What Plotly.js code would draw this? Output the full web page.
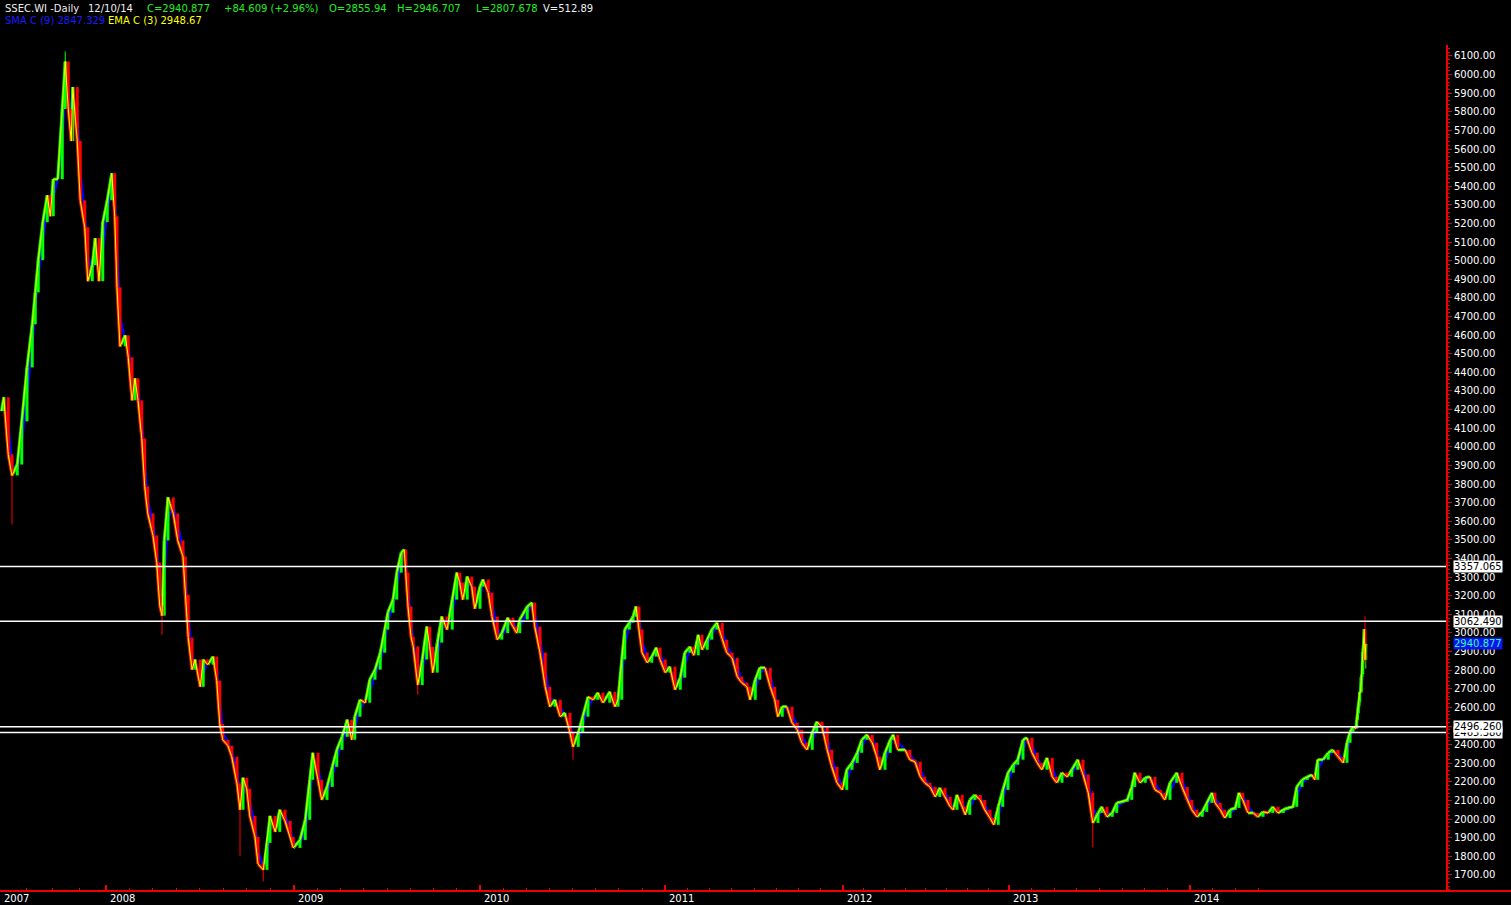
<!DOCTYPE html>
<html><head><meta charset="utf-8">
<script src="https://cdn.plot.ly/plotly-3.0.1.min.js"></script>
<style>html,body{margin:0;padding:0;background:#000;overflow:hidden}#chart{width:1511px;height:905px}</style>
</head><body><div id="chart"></div>
<script>
// Bar number (trading session index on the chart's own axis) and daily close
const bar = [
 2,5,11,16,23,29,36,43,47,51,57,63,67,71,77,83,87,91,95,97,103,107,113,117,123,127,132,137,143,
 149,153,156,160,167,171,176,180,184,189,193,197,204,209,213,216,219,224,231,237,244,247,251,256,260,267,271,277,284,289,293,297,304,309,316,320,324,329,333,340,344,351,356,360,367,373,380,387,391,
 400,407,413,417,424,429,436,443,449,456,463,469,473,480,487,493,500,507,513,517,524,529,535,539,541,544,548,551,557,563,569,573,577,583,589,596,603,609,613,617,623,629,633,640,
 644,651,656,663,669,677,684,689,693,703,709,713,720,727,733,740,747,753,760,764,771,777,784,791,797,804,813,820,824,829,833,839,844,848,852,856,863,869,875,880,887,
 893,900,907,913,920,925,931,936,943,949,956,963,969,976,983,989,996,1000,1007,1013,1020,1027,1033,1037,1043,1049,1056,1063,1069,1076,1083,1089,1096,1103,1109,1116,1123,
 1129,1136,1143,1149,1156,1163,1169,1173,1180,1187,1191,1197,1207,1213,1220,1227,1233,1240,1247,1253,1260,1267,1271,1276,1283,1287,1293,1300,1307,1313,1320,1325,1331,1337,1344,
 1351,1357,1364,1369,1376,1383,1389,1396,1403,1409,1416,1423,1429,1437,1444,1451,1457,1464,1469,1476,1483,1489,1496,1503,1509,1513,1520,1527,1533,1540,1547,1553,1560,1569,1576,1583,
 1589,1596,1603,1609,1616,1620,1627,1633,1640,1647,1652,1657,1664,1671,1677,1684,1691,1697,1704,1711,1717,1724,1729,1736,1743,1749,1753,1757,1764,1771,1777,1784,1791,1796,1800,1804,1808,1809,1810,1811,1812,1813,1814,1815,1816,1817,1818,1819,1820,1821
];
const closes = [
 4193,4266,3959,3846,3905,4137,4427,4658,4830,5003,5207,5352,5239,5438,5438,5815,6070,5815,5643,5933,5643,5325,5180,4890,4976,5121,4890,5207,5325,
 5470,5239,4857,4540,4599,4481,4250,4368,4250,4045,3787,3642,3524,3378,3147,3093,3497,3728,3642,3497,3411,3206,2975,2803,2857,2711,2857,2830,2873,2744,2512,2426,2394,2335,2189,2050,2222,2163,2017,1904,1759,1727,1872,2017,1931,2050,1990,1904,1845,
 1888,1996,2211,2356,2211,2103,2173,2281,2372,2442,2534,2426,2550,2641,2625,2749,2803,2894,3018,3109,3179,3324,3432,3448,3324,3142,2980,2926,2720,2857,3034,2926,2787,2948,3088,3018,3179,3324,3271,3179,3303,3249,3130,3249,
 3287,3217,3088,2964,2999,3082,3034,2999,3072,3142,3163,3034,2894,2711,2604,2641,2550,2571,2464,2388,2464,2550,2657,2641,2679,2625,2684,2604,2641,2857,3018,3055,3088,3142,3018,2894,2840,2873,2921,2857,2787,
 2819,2695,2760,2894,2926,2880,2990,2910,2964,3018,3055,2964,2894,2867,2765,2733,2711,2641,2749,2813,2813,2711,2641,2550,2604,2604,2518,2480,2410,2372,2464,2523,2496,2372,2281,2195,2157,
 2265,2302,2356,2426,2453,2410,2335,2265,2356,2426,2453,2372,2372,2319,2308,2227,2195,2173,2119,2168,2119,2066,2050,2130,2066,2023,2103,2130,2103,2050,2006,1969,2066,2157,2249,
 2292,2319,2426,2437,2356,2302,2265,2329,2227,2195,2249,2227,2265,2319,2240,2141,1979,2033,2066,2012,2033,2087,2093,2103,2173,2249,2195,2222,2227,2157,2141,2103,2195,2249,2173,2103,
 2050,2012,2039,2087,2141,2087,2050,2006,2050,2060,2141,2103,2033,2033,2012,2039,2033,2066,2033,2050,2060,2066,2173,2211,2227,2238,2211,2319,2319,2356,2372,2335,2302,2410,2469,2496,2487,2533,2567,2604,2630,2683,2680,2763,2779,2899,2938,3020,2856,2941
];
// Long wicks visible in the picture
const wickBar  = [16, 87, 216, 320, 351, 557, 764, 1457, 1820, 1821];
const wickHigh = [3960, 6124, 3200, 2200, 1790, 2930, 2470, 2150, 3091, 2947];
const wickLow  = [3583, 5900, 2990, 1802, 1665, 2667, 2319, 1849, 2834, 2808];

// Axis labels
const yearLabels = ['2007','2008','2009','2010','2011','2012','2013','2014'];
const yearBars   = [0, 141, 392, 640, 887, 1124, 1345, 1587];

// Horizontal levels and the last price
const levelValues = [3357.065, 3062.490, 2465.380, 2496.260];
const levelLabels = ['3357.065', '3062.490', '2465.380', '2496.260'];
const lastPrice = 2940.877;
const lastLabel = '2940.877';

// Header texts
const headerTexts = ['SSEC.WI -Daily', '12/10/14', 'C=2940.877', '+84.609 (+2.96%)', 'O=2855.94', 'H=2946.707', 'L=2807.678', 'V=512.89'];
const headerColors = ['#eeeeee', '#eeeeee', '#22ee22', '#22ee22', '#22ee22', '#22ee22', '#22ee22', '#eeeeee'];
const headerX = [3, 86, 145, 222, 327, 395, 474, 541];
const studyTexts = ['SMA C (9) 2847.329', 'EMA C (3) 2948.67'];
const studyColors = ['#1a1aff', '#ffff00'];
const studyX = [3, 106];

// ---------- build ----------
const W = 1511, H = 905, ML = 0, MR = 65, MT = 45, MB = 14;
const PW = W - ML - MR, PH = H - MT - MB;
const px = v => v / PW, py = v => (H - MB - v) / PH;

const opens = closes.map((c, i) => i === 0 ? c : closes[i - 1]);
const upX = [], upY = [], dnX = [], dnY = [];
const suX = [], suY = [], sdX = [], sdY = [];
closes.forEach((c, i) => {
  const o = opens[i];
  if (c >= o) { upX.push(bar[i], bar[i], null); upY.push(o, c, null); }
  else { dnX.push(bar[i], bar[i], null); dnY.push(o, c, null); }
  if (i > 0) {
    if (c >= o) { suX.push(bar[i - 1], bar[i], null); suY.push(o, c, null); }
    else { sdX.push(bar[i - 1], bar[i], null); sdY.push(o, c, null); }
  }
});
const wuX = [], wuY = [], wdX = [], wdY = [];
wickBar.forEach((b, k) => {
  const i = bar.indexOf(b);
  const up = closes[i] >= opens[i];
  (up ? wuX : wdX).push(b, b, null);
  (up ? wuY : wdY).push(wickLow[k], wickHigh[k], null);
});
const sma = closes.map((c, i) => i === 0 ? c : (c + closes[i - 1]) / 2);

const traces = [
  {type: 'scatter', mode: 'lines', x: bar, y: sma, line: {color: '#0000ff', width: 2.5}, hoverinfo: 'skip'},
  {type: 'scatter', mode: 'lines', x: suX, y: suY, line: {color: '#00ff00', width: 3}, hoverinfo: 'skip'},
  {type: 'scatter', mode: 'lines', x: sdX, y: sdY, line: {color: '#ff2000', width: 3}, hoverinfo: 'skip'},
  {type: 'scatter', mode: 'lines', x: wuX, y: wuY, line: {color: '#00ff00', width: 1}, hoverinfo: 'skip'},
  {type: 'scatter', mode: 'lines', x: wdX, y: wdY, line: {color: '#ff0000', width: 1}, hoverinfo: 'skip'},
  {type: 'scatter', mode: 'lines', x: upX, y: upY, line: {color: '#00ff00', width: 3}, hoverinfo: 'skip'},
  {type: 'scatter', mode: 'lines', x: dnX, y: dnY, line: {color: '#ff0000', width: 3}, hoverinfo: 'skip'},
  {type: 'scatter', mode: 'lines', x: bar, y: closes, line: {color: '#ffff00', width: 1}, hoverinfo: 'skip'}
];

// minor x ticks: 8 subdivisions per year
const minorX = [];
for (let k = 0; k < yearBars.length; k++) {
  const a = yearBars[k];
  const b = k + 1 < yearBars.length ? yearBars[k + 1] : a + (yearBars[k] - yearBars[k - 1]);
  const n = k === 0 ? 4 : 8;
  for (let j = 1; j < n; j++) { const v = a + (b - a) * j / n; if (v < 1700) minorX.push(v); }
}

const font = 'DejaVu Sans, Verdana, sans-serif';
const annotations = [];
yearLabels.forEach((t, i) => annotations.push({
  text: t, x: yearBars[i], xref: 'x', y: py(898), yref: 'paper', xanchor: 'left', yanchor: 'middle',
  xshift: 2, showarrow: false, font: {family: font, size: 10, color: '#ffffff'}
}));
headerTexts.forEach((t, i) => annotations.push({
  text: t, x: px(headerX[i]), xref: 'paper', y: py(8), yref: 'paper', xanchor: 'left', yanchor: 'middle',
  showarrow: false, font: {family: font, size: 10, color: headerColors[i]}
}));
studyTexts.forEach((t, i) => annotations.push({
  text: t, x: px(studyX[i]), xref: 'paper', y: py(21), yref: 'paper', xanchor: 'left', yanchor: 'middle',
  showarrow: false, font: {family: font, size: 10, color: studyColors[i]}
}));
levelValues.forEach((v, i) => annotations.push({
  text: levelLabels[i], x: px(1453), xref: 'paper', y: v, yref: 'y', xanchor: 'left', yanchor: 'middle',
  showarrow: false, bgcolor: '#ffffff', borderpad: 0, font: {family: font, size: 10, color: '#000000'}
}));
annotations.push({
  text: lastLabel, x: px(1453), xref: 'paper', y: lastPrice, yref: 'y', xanchor: 'left', yanchor: 'middle',
  showarrow: false, bgcolor: '#0a14f0', borderpad: 0, font: {family: font, size: 10, color: '#30ffb0'}
});

const shapes = levelValues.map(v => ({
  type: 'line', xref: 'paper', x0: 0, x1: 1, yref: 'y', y0: v, y1: v, line: {color: '#ffffff', width: 1.5}
}));
shapes.push({type: 'line', xref: 'paper', x0: 0, x1: W / PW, yref: 'paper', y0: 0, y1: 0, line: {color: '#ee0000', width: 2}});

const layout = {
  width: W, height: H, paper_bgcolor: '#000000', plot_bgcolor: '#000000', showlegend: false,
  margin: {l: ML, r: MR, t: MT, b: MB, pad: 0},
  xaxis: {range: [0, PW / 0.75], showgrid: false, zeroline: false, showline: false, fixedrange: true,
    tickmode: 'array', tickvals: yearBars, ticks: 'inside', ticklen: 6, tickwidth: 2, tickcolor: '#ee0000', showticklabels: false,
    minor: {tickmode: 'array', tickvals: minorX, ticks: 'inside', ticklen: 3, tickwidth: 1, tickcolor: '#ee0000', showgrid: false}},
  yaxis: {side: 'right', range: [1613.5, 6159], showgrid: false, zeroline: false, fixedrange: true,
    showline: true, linecolor: '#ee0000', linewidth: 2,
    tickmode: 'linear', tick0: 0, dtick: 100, tickformat: '.2f', ticks: 'outside', ticklen: 4, tickwidth: 1, tickcolor: '#ee0000',
    tickfont: {family: font, size: 10, color: '#ffffff'},
    minor: {tick0: 0, dtick: 20, ticks: 'outside', ticklen: 2, tickwidth: 1, tickcolor: '#ee0000', showgrid: false}},
  shapes: shapes, annotations: annotations
};
Plotly.newPlot('chart', traces, layout, {displayModeBar: false, staticPlot: true});
</script></body></html>
